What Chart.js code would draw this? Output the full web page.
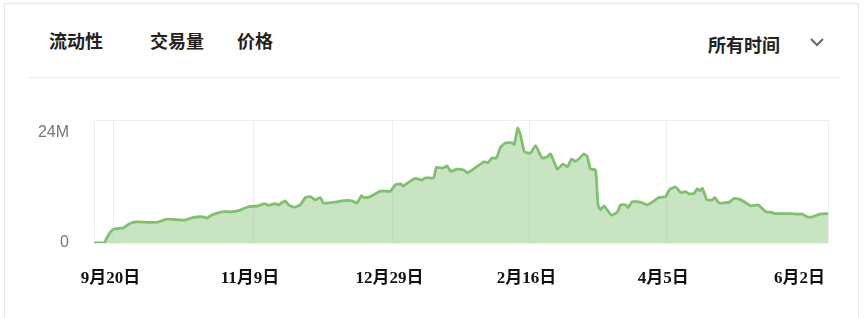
<!DOCTYPE html>
<html>
<head>
<meta charset="utf-8">
<script src="https://cdn.jsdelivr.net/npm/chart.js@4"></script>
<style>
    html, body { margin: 0; padding: 0; background: #fff; }
    body { width: 865px; height: 318px; position: relative; overflow: hidden; font-family: 'Noto Sans CJK SC', sans-serif; }
    .card { position: absolute; left: 4px; top: 3px; width: 855px; height: 330px; border: 1px solid #e6e6e6; box-sizing: border-box; }
    .tab { position: absolute; top: 31px; font-size: 18px; line-height: 18px; font-weight: bold; color: #222; }
    .range { position: absolute; left: 708px; top: 35px; font-size: 18px; line-height: 18px; font-weight: bold; color: #222; }
    .chev { position: absolute; left: 809px; top: 37px; }
    .sep { position: absolute; left: 27px; top: 77px; width: 812px; height: 1px; background: #eeeeee; }
    .chart-box { position: absolute; left: 0; top: 100px; width: 865px; height: 200px; }
</style>
</head>
<body>
<div class="card"></div>
<div class="tab" style="left:49px">流动性</div>
<div class="tab" style="left:150px">交易量</div>
<div class="tab" style="left:237px">价格</div>
<div class="range">所有时间</div>
<svg class="chev" width="16" height="10"><polyline points="2,2 8,8 14,2" fill="none" stroke="#666" stroke-width="2"/></svg>
<div class="sep"></div>
<div class="chart-box"><canvas id="volume-chart"></canvas></div>

<script>
// days since 9月13日, volume in millions
const days = [0, 3.6, 4.5, 6, 7, 10.5, 11.5, 13.5, 15.3, 22.5, 26, 32.6, 35.6, 39.2, 40.4, 42.2, 45.8, 48.8, 50.6, 52,
    55.3, 58.9, 61.1, 62.5, 64.9, 66.1, 68.5, 69.7, 71.8, 73.9, 75.7, 77.5, 79.3, 81.1, 82.2, 86.4, 88.8, 92.4, 94.2, 95.8,
    96.6, 99, 102.6, 106.2, 108, 110, 110.7, 112.7, 115.1, 117.5, 118.7, 121.7, 122.7, 124.7, 125.9, 126.5, 127.9, 130.1, 132.5, 133.9,
    138.5, 139.7, 141.1, 142.6, 144.2, 145.6, 147.4, 149.8, 150.6, 151.8, 152.8, 154.2, 156.4, 158.2, 160.6, 162.4, 163.6, 166, 168, 169.6,
    171.1, 172.3, 173.7, 175.5, 176.7, 177.9, 179.7, 180.6, 181.5, 182.7, 183.9, 185.4, 187.5, 188.7, 190.5, 191.4, 192.8, 195.8, 198.2, 200,
    202.4, 204.8, 206.2, 208.4, 210.2, 212, 213.2, 215, 216.2, 217.2, 218, 219.6, 221.6, 222.4, 224, 227.6, 229.4, 231.8, 235.4, 238,
    240.7, 242.5, 244.3, 249.6, 252, 253.8, 255.6, 257.4, 260, 263];
const volume = [0, 0, 1.0, 2.5, 3.0, 3.3, 3.7, 4.4, 4.6, 4.5, 5.2, 5.0, 5.6, 5.7, 5.4, 6.1, 6.8, 6.8, 6.9, 7.1,
    7.9, 8.1, 8.6, 8.2, 8.6, 8.3, 9.2, 8.3, 7.8, 8.3, 9.9, 10.1, 9.4, 9.9, 8.7, 8.9, 9.2, 9.2, 8.7, 10.3,
    9.9, 10.1, 11.3, 11.3, 12.7, 12.9, 12.4, 13.2, 14.1, 13.7, 14.2, 14.2, 16.5, 16.3, 16.6, 16.8, 15.6, 16.1, 15.9, 15.3,
    17.2, 17.7, 17.5, 18.5, 18.5, 20.8, 21.8, 21.8, 21.5, 25.0, 23.6, 19.9, 19.6, 21.2, 18.5, 18.8, 19.4, 16.1, 17.2, 16.6,
    18.3, 17.8, 18.3, 19.4, 18.9, 16.1, 15.9, 8.3, 7.2, 8.1, 7.2, 6.1, 6.7, 8.3, 8.3, 7.7, 9.0, 8.9, 8.3, 8.9,
    9.9, 10.1, 11.6, 12.2, 11.0, 11.2, 10.7, 10.8, 11.8, 11.4, 11.9, 9.4, 9.4, 9.9, 8.7, 8.9, 9.7, 9.4, 8.1, 8.3,
    6.8, 6.7, 6.4, 6.4, 6.3, 6.3, 5.7, 5.7, 6.3, 6.4];

const tickDays = [0, 7, 57, 107, 156, 205, 263];
const tickLabels = ['', '9月20日', '11月9日', '12月29日', '2月16日', '4月5日', '6月2日'];
const yTicks = [0, 24, 26.8];
const yLabels = ['0', '24M', ''];

document.addEventListener('DOMContentLoaded', function() {
    const ctx = document.getElementById('volume-chart').getContext('2d');
    new Chart(ctx, {
        type: 'line',
        data: {
            datasets: [{
                data: days.map((d, i) => ({ x: d, y: volume[i] })),
                borderColor: '#80c070',
                backgroundColor: 'rgba(125, 190, 110, 0.42)',
                borderWidth: 2.8,
                fill: 'origin',
                pointRadius: 0,
                tension: 0.15
            }]
        },
        options: {
            responsive: true,
            maintainAspectRatio: false,
            animation: false,
            layout: { padding: { left: 34, right: 37, top: 20, bottom: 7 } },
            plugins: { legend: { display: false }, tooltip: { enabled: false } },
            scales: {
                x: {
                    type: 'linear',
                    min: 0,
                    max: 263,
                    afterBuildTicks: axis => { axis.ticks = tickDays.map(v => ({ value: v })); },
                    afterFit: axis => { axis.height = 50; },
                    border: { display: false },
                    grid: { color: '#eeeeee', drawTicks: false },
                    ticks: {
                        autoSkip: false,
                        maxRotation: 0,
                        align: 'inner',
                        padding: 25,
                        labelOffset: -3,
                        color: '#111',
                        font: { family: "'Liberation Serif', 'Noto Sans CJK SC', serif", size: 17, weight: 'bold' },
                        callback: value => tickLabels[tickDays.indexOf(value)]
                    }
                },
                y: {
                    min: 0,
                    max: 26.8,
                    afterBuildTicks: axis => { axis.ticks = yTicks.map(v => ({ value: v })); },
                    afterFit: axis => {
                        axis.width = 60;
                        axis.paddingTop = 0;
                        axis.paddingBottom = 0;
                    },
                    border: { display: false },
                    grid: {
                        drawTicks: false,
                        color: c => (c.tick && c.tick.value === 24) ? 'rgba(0,0,0,0)' : '#eeeeee'
                    },
                    ticks: {
                        padding: 25,
                        color: '#777',
                        font: { family: "'Liberation Sans', sans-serif", size: 16 },
                        callback: value => yLabels[yTicks.indexOf(value)]
                    }
                }
            }
        }
    });
});
</script>
</body>
</html>
